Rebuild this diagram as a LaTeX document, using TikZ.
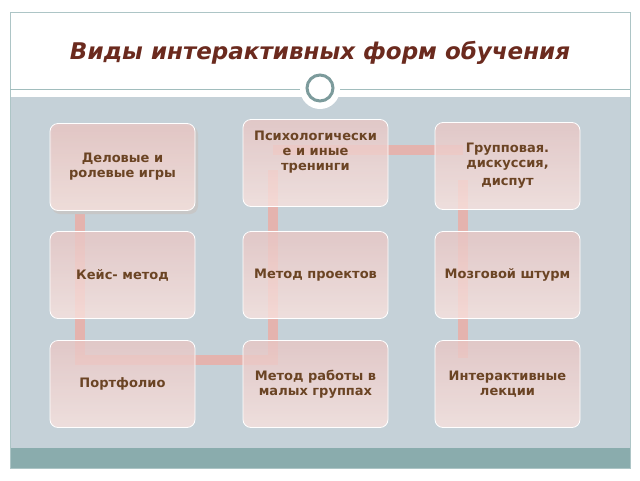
\documentclass[tikz,border=0pt]{standalone}
\usepackage{fontspec}
\setmainfont{DejaVu Sans}
\begin{document}
\begin{tikzpicture}[x=1pt,y=-1pt,
  box/.style={draw=white,line width=0.8pt,rounded corners=8pt,minimum width=145pt,minimum height=87pt,
    top color=boxtop,bottom color=boxbot,fill opacity=0.8,text opacity=1,align=center,
    font=\bfseries\fontsize{13}{15}\selectfont,text=txt,inner sep=2pt},
  conn/.style={draw=connc,line width=10pt,opacity=0.9}]
\definecolor{boxtop}{HTML}{E8C6C4}
\definecolor{boxbot}{HTML}{F8E2DE}
\definecolor{txt}{HTML}{6B4424}
\definecolor{connc}{HTML}{E8B0AA}
\definecolor{bg}{HTML}{C5D1D8}
\definecolor{band}{HTML}{8AACAD}
\definecolor{ttl}{HTML}{6B2A1E}
\useasboundingbox (0,0) rectangle (640,480);
\fill[white] (0,0) rectangle (640,480);
\fill[bg] (10,97) rectangle (630,448);
\fill[band] (10,448) rectangle (630,468);
\draw[band!70,line width=0.8pt] (10,12) rectangle (630,468);
\draw[band!80,line width=0.8pt] (10,89) -- (630,89);
\node[font=\bfseries\itshape\fontsize{23}{26}\selectfont,text=ttl] (title) at (320,53) {Виды интерактивных форм обучения};
\node[circle,fill=white,minimum size=40pt,inner sep=0pt] (c0) at (320,89) {};
\node[circle,draw=band!90!black,line width=3pt,fill=white,minimum size=26pt,inner sep=0pt] (c) at (320,88) {};
\coordinate (k1) at (80,360);
\coordinate (k2) at (273,360);
\coordinate (k3) at (463,358);
\coordinate (k4) at (273,150);
\coordinate (k5) at (463,150);
\draw[conn] (80,170) -- (k1) -- (k2) -- (273,170);
\draw[conn] (k4) -- (k5);
\draw[conn] (463,180) -- (k3);
\fill[black!22,rounded corners=8pt] (52,126) rectangle +(146,88);
\node[box] (b1) at (122.5,167) {Деловые и\\ролевые игры};
\node[box] (b2) at (315.5,163) {Психологически\\е и иные\\тренинги\\[10pt]};
\node[box] (b3) at (507.5,166) {Групповая.\\дискуссия,\\[3pt]диспут};
\node[box] (b4) at (122.5,275) {Кейс- метод};
\node[box] (b5) at (315.5,275) {Метод проектов};
\node[box] (b6) at (507.5,275) {Мозговой штурм};
\node[box] (b7) at (122.5,384) {Портфолио};
\node[box] (b8) at (315.5,384) {Метод работы в\\малых группах};
\node[box] (b9) at (507.5,384) {Интерактивные\\лекции};
\end{tikzpicture}
\end{document}
